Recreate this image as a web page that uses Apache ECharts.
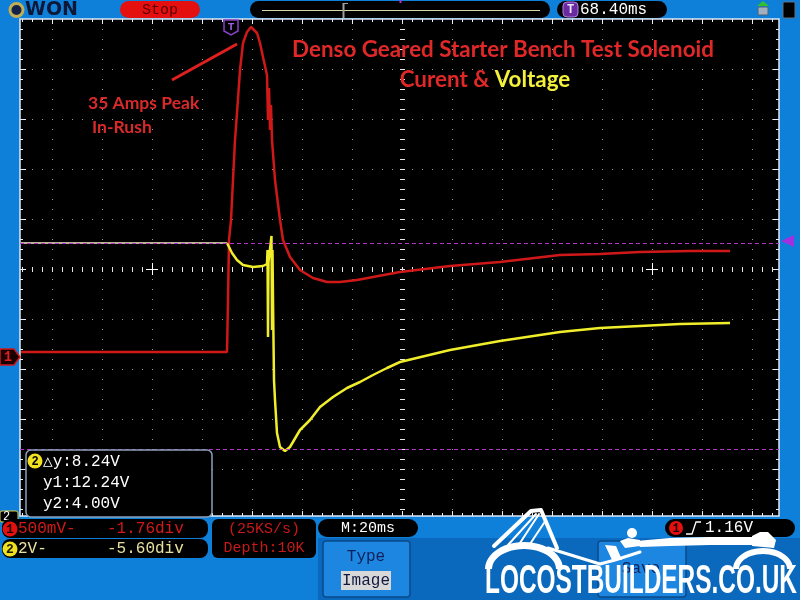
<!DOCTYPE html>
<html><head><meta charset="utf-8">
<script src="https://cdn.jsdelivr.net/npm/echarts@6/dist/echarts.min.js"></script>
<style>html,body{margin:0;padding:0;background:#0f80d9}#c{width:800px;height:600px}</style>
</head><body><div id="c"></div><script>
// ---- DATA ----
// CH1 (red, current clamp) : time in ms from trigger, volts
const ch1Time  = [-84, -1.6, -1.2, -0.8, 0, 1.6, 2.4, 3.6, 4.8, 6.4, 8.0, 8.8, 10.4, 11.6, 12.8, 14.4, 14.8, 15.2, 15.6, 16.0, 16.4, 17.6, 19.6, 20.8, 23.6, 27.6, 32.8, 38.4, 43.6, 50.4, 56.8, 67.6, 87.6, 107.6, 131.6, 147.6, 163.6, 183.6, 199.6];
const ch1Volts = [0.05, 0.05, 0.57, 1.17, 1.37, 2.17, 2.44, 2.87, 3.14, 3.25, 3.30, 3.29, 3.24, 3.14, 3.00, 2.82, 2.37, 2.69, 2.27, 2.52, 2.17, 1.77, 1.37, 1.17, 1.00, 0.87, 0.79, 0.75, 0.75, 0.77, 0.80, 0.85, 0.91, 0.95, 1.02, 1.03, 1.05, 1.06, 1.06];
// CH2 (yellow, battery voltage) : time in ms, volts
const ch2Time  = [-84, -1.6, 0.4, 2.4, 4.8, 8.8, 12.8, 14.4, 14.6, 14.8, 15.0, 15.6, 16.2, 16.4, 16.6, 16.8, 17.2, 17.6, 18.4, 19.6, 21.6, 23.6, 27.6, 31.6, 35.6, 40.8, 46.4, 51.6, 56.8, 62.4, 67.6, 87.6, 107.6, 131.6, 147.6, 163.6, 179.6, 199.6];
const ch2Volts = [12.24, 12.24, 11.84, 11.56, 11.36, 11.28, 11.32, 11.40, 11.96, 8.48, 11.48, 11.48, 12.52, 8.76, 11.96, 9.96, 6.76, 5.96, 4.64, 4.08, 3.92, 4.08, 4.76, 5.16, 5.68, 6.08, 6.44, 6.68, 6.96, 7.24, 7.48, 7.96, 8.32, 8.68, 8.84, 8.92, 9.00, 9.04];
// Cursor values (CH2) and trigger level (CH1)
const cursorVolts = [12.24, 4.00];
const triggerLevel = 1.16;
// Scope settings
const timePerDiv = 20;        // ms
const trigOffset = 68.40;     // ms, centre relative to trigger
const ch1VoltsPerDiv = 0.5, ch1Pos = -1.76;
const ch2VoltsPerDiv = 2.0, ch2Pos = -5.60;
// Texts
const titleLine1 = 'Denso Geared Starter Bench Test Solenoid';
const titleLine2a = 'Curent & ', titleLine2b = 'Voltage';
const noteLine1 = '35 Amps Peak', noteLine2 = 'In-Rush';
const cursorText = ['\u25B3y:8.24V', 'y1:12.24V', 'y2:4.00V'];
const ch1Text = ['500mV-', '-1.76div'];
const ch2Text = ['2V-', '-5.60div'];
const sampleText = ['(25KS/s)', 'Depth:10K'];
const timebaseText = 'M:20ms';
const trigText = '1.16V';
const delayText = '68.40ms';
const logoText = 'LOCOSTBUILDERS.CO.UK';

// ---- LAYOUT ----
const GX = 20, GY = 19, GW = 759, GH = 497;
const CX = 402, CY = 269, DIV = 50;
const pxPerMs = DIV / timePerDiv;
const trigPx = CX - trigOffset * pxPerMs;
const xMin = (GX - trigPx) / pxPerMs, xMax = (GX + GW - trigPx) / pxPerMs;
function yRange(vpd, pos) {
  const zeroPx = CY - pos * DIV;
  const vpp = vpd / DIV;
  return [(zeroPx - (GY + GH)) * vpp, (zeroPx - GY) * vpp];
}
const r1 = yRange(ch1VoltsPerDiv, ch1Pos), r2 = yRange(ch2VoltsPerDiv, ch2Pos);

const MONO = '"Liberation Mono","DejaVu Sans Mono",monospace';
const SANS = 'Lato,"Open Sans",sans-serif';

const g = [];
function L(x1, y1, x2, y2, stroke, w, dash, z) {
  g.push({type: 'line', silent: true, z: z || 1, shape: {x1, y1, x2, y2},
    style: {stroke, lineWidth: w || 1, lineDash: dash || null}});
}
function R(x, y, w, h, fill, r, stroke, lw, z) {
  g.push({type: 'rect', silent: true, z: z || 10, shape: {x, y, width: w, height: h, r: r || 0},
    style: {fill, stroke: stroke || null, lineWidth: lw || 0}});
}
function T(x, y, text, fill, font, align, z, extra) {
  const s = Object.assign({text, fill, font, textAlign: align || 'left', textVerticalAlign: 'middle'}, extra || {});
  g.push({type: 'text', silent: true, z: z || 11, x, y, style: s});
}
function C(cx, cy, r, fill, stroke, lw, z) {
  g.push({type: 'circle', silent: true, z: z || 11, shape: {cx, cy, r}, style: {fill, stroke: stroke || null, lineWidth: lw || 0}});
}
function PG(points, fill, z) {
  g.push({type: 'polygon', silent: true, z: z || 13, shape: {points}, style: {fill}});
}
function PL(points, stroke, lw, z) {
  g.push({type: 'polyline', silent: true, z: z || 13, shape: {points}, style: {stroke, lineWidth: lw, fill: null, lineCap: 'round', lineJoin: 'round'}});
}
function arcRing(cx, cy, rx, ry, rx2, ry2) {
  const pts = [];
  for (let i = 0; i <= 24; i++) { const a = Math.PI + Math.PI * i / 24; pts.push([cx + rx * Math.cos(a), cy + ry * Math.sin(a)]); }
  for (let i = 24; i >= 0; i--) { const a = Math.PI + Math.PI * i / 24; pts.push([cx + rx2 * Math.cos(a), cy + ry2 * Math.sin(a)]); }
  return pts;
}

// grid dotted lines
for (let x = 52; x < GX + GW; x += DIV) if (x !== CX) L(x + 0.5, GY, x + 0.5, GY + GH, '#9a9a9a', 1, [1, 9]);
for (let y = 69; y < GY + GH; y += DIV) if (y !== CY) L(GX + 2, y + 0.5, GX + GW, y + 0.5, '#9a9a9a', 1, [1, 9]);
// centre lines with ticks
for (let x = 22; x < GX + GW; x += 10) L(x + 0.5, CY - 2, x + 0.5, CY + 3, '#e8e8e8', 1);
for (let y = 29; y < GY + GH; y += 10) L(CX - 2, y + 0.5, CX + 3, y + 0.5, '#e8e8e8', 1);
// border ticks
for (let x = 22; x < GX + GW; x += 10) {
  const big = (x - 2) % 50 === 0 ? 5 : 3;
  L(x + 0.5, GY, x + 0.5, GY + big, '#e8f0ff', 1, null, 5);
  L(x + 0.5, GY + GH - big, x + 0.5, GY + GH, '#e8f0ff', 1, null, 5);
}
for (let y = 29; y < GY + GH; y += 10) {
  const big = (y - 19) % 50 === 0 ? 6 : 3;
  L(GX, y + 0.5, GX + big, y + 0.5, '#e8f0ff', 1, null, 5);
  L(GX + GW - big, y + 0.5, GX + GW, y + 0.5, '#e8f0ff', 1, null, 5);
}
// crosses
[152, 652].forEach(x => { L(x - 6, CY + 0.5, x + 6, CY + 0.5, '#ffffff', 1); L(x + 0.5, CY - 6, x + 0.5, CY + 6, '#ffffff', 1); });

// ---- TOP BAR ----
C(16.5, 10, 6.5, '#14224a', '#bfae55', 3, 11);
T(25, 10.5, 'WON', '#0d1838', 'bold 19px "DejaVu Sans"', 'left', 11);
R(120, 1, 80, 17, '#e41010', 8.5);
T(160, 10, 'Stop', '#5a0000', '15px ' + MONO, 'center');
R(250, 1, 300, 17, '#000', 8.5);
L(262, 10.5, 540, 10.5, '#d8d8a8', 1, null, 11);
L(343.5, 3, 343.5, 18, '#a0a0a0', 2, null, 11);
L(343, 3.5, 348, 3.5, '#a0a0a0', 1, null, 11);
L(400.5, 0, 400.5, 3, '#b030d0', 2, null, 11);
R(557, 1, 110, 17, '#000', 8.5);
R(563, 2, 15, 15, '#6a2aa0', 4, '#b080e0', 1, 11);
T(570.5, 10, 'T', '#e8e0ff', 'bold 12px ' + MONO, 'center', 12);
T(580, 10, delayText, '#ffffff', '16px ' + MONO, 'left');
R(758, 7, 10, 8, '#a0b0c0', 1, '#506070', 1, 11);
g.push({type: 'polygon', silent: true, z: 12, shape: {points: [[757, 6], [763, 1], [769, 6]]}, style: {fill: '#30c030'}});
R(783, 2, 12, 16, '#000', 1, '#607080', 1, 11);

// ---- ANNOTATIONS ----
T(503, 50, titleLine1, '#e02828', 'bold 22.4px ' + SANS, 'center', 12);
g.push({type: 'text', silent: true, z: 12, x: 485, y: 80,
  style: {text: '{r|' + titleLine2a + '}{y|' + titleLine2b + '}', textAlign: 'center', textVerticalAlign: 'middle',
    rich: {r: {fill: '#e02828', font: 'bold 22.4px ' + SANS}, y: {fill: '#f4f23a', font: 'bold 22.4px ' + SANS}}}});
T(88, 103, noteLine1, '#d82a2a', 'bold 17.5px ' + SANS, 'left', 12);
T(92, 127, noteLine2, '#d82a2a', 'bold 17.5px ' + SANS, 'left', 12);
L(172, 80, 237, 44, '#e02020', 3, null, 12);

// ---- CURSOR INFO BOX ----
R(26, 450, 186, 67, '#000', 5, '#8ca0b8', 1.5, 10);
C(35, 461, 7.5, '#f0e020', null, 0, 11);
T(35, 461.5, '2', '#000', 'bold 12px ' + MONO, 'center', 12);
T(43, 462, cursorText[0], '#ffffff', '16px ' + MONO, 'left');
T(43, 483, cursorText[1], '#ffffff', '16px ' + MONO, 'left');
T(43, 504, cursorText[2], '#ffffff', '16px ' + MONO, 'left');

// ---- BOTTOM BAR ----
R(0, 517, 800, 83, '#0f80d9', 0, null, 0, 8);
R(318, 538, 482, 62, '#0b69bd', 0, null, 0, 8);
R(0, 511, 18, 11, '#000', 2, '#e0d040', 1, 9);
T(3, 517, '2', '#ffffff', '12px ' + MONO, 'left', 9);
R(2, 519, 206, 19, '#000', 8, null, 0, 10);
R(2, 539, 206, 19, '#000', 8, null, 0, 10);
C(10, 529, 7.5, '#e41010', null, 0, 11);
T(10, 529.5, '1', '#200000', 'bold 13px ' + MONO, 'center', 12);
T(18, 529, ch1Text[0], '#d41818', '16px ' + MONO, 'left');
T(107, 529, ch1Text[1], '#d41818', '16px ' + MONO, 'left');
C(10, 549, 7.5, '#f0e020', null, 0, 11);
T(10, 549.5, '2', '#202000', 'bold 13px ' + MONO, 'center', 12);
T(18, 549, ch2Text[0], '#e8e0a0', '16px ' + MONO, 'left');
T(107, 549, ch2Text[1], '#e8e0a0', '16px ' + MONO, 'left');
R(212, 519, 104, 39, '#000', 6, null, 0, 10);
T(264, 529, sampleText[0], '#c81818', '15px ' + MONO, 'center');
T(264, 548, sampleText[1], '#c81818', '15px ' + MONO, 'center');
R(318, 519, 100, 18, '#000', 9, null, 0, 10);
T(368, 528, timebaseText, '#ffffff', '15px ' + MONO, 'center');
R(665, 519, 130, 18, '#000', 9, null, 0, 10);
C(676, 528, 7, '#e41010', null, 0, 11);
T(676, 528.5, '1', '#200000', 'bold 12px ' + MONO, 'center', 12);
g.push({type: 'polyline', silent: true, z: 12, shape: {points: [[686, 534], [692, 534], [696, 522], [701, 522]]}, style: {stroke: '#ffffff', lineWidth: 1.3, fill: null}});
T(705, 528, trigText, '#ffffff', '16px ' + MONO, 'left');
R(323, 541, 87, 56, '#1c86e0', 3, '#0a4a8a', 1.5, 10);
T(366, 557, 'Type', '#10205a', '16px ' + MONO, 'center');
R(341, 571, 50, 19, '#d8d8d8', 0, null, 0, 11);
T(366, 581, 'Image', '#101840', '16px ' + MONO, 'center', 12);
R(598, 541, 88, 56, '#1c86e0', 3, '#0a4a8a', 1.5, 10);
T(641, 569, 'Save', '#10205a', '16px ' + MONO, 'center');

// ---- LOGO ----
const W = '#ffffff';
PG(arcRing(524, 569, 39, 27, 32, 20), W);
PL([[494, 546], [531, 511], [541, 510], [557, 548]], W, 4);
PL([[508, 545], [536, 514]], W, 2);
PL([[518, 546], [539, 514]], W, 2);
PL([[528, 547], [546, 520]], W, 2);
PL([[548, 548], [600, 564], [615, 560], [640, 552]], W, 3);
PG([[605, 545], [612, 560], [622, 560], [616, 546]], W);
PG([[620, 541], [628, 538], [640, 540], [640, 546], [625, 548]], W);
C(632, 533, 5, W, null, 0, 13);
PG([[636, 541], [670, 538], [710, 537], [752, 537], [752, 545], [710, 545], [670, 546], [640, 547]], W);
PG([[752, 536], [760, 532], [768, 532], [776, 540], [774, 548], [752, 546]], W);
PG(arcRing(763, 569, 30, 21, 24, 15), W);
const LOGO_FONT = 'bold 40px "Liberation Sans Narrow","Liberation Sans",sans-serif';
const cv = document.createElement('canvas').getContext('2d');
cv.font = LOGO_FONT;
const logoW = cv.measureText(logoText).width;
g.push({type: 'text', silent: true, z: 14, x: 485, y: 582, scaleX: 312 / logoW, originX: 0, originY: 0,
  style: {text: logoText, fill: W, font: LOGO_FONT, textVerticalAlign: 'middle'}});

// split CH2 into the pale pre-trigger trace and the live trace
const ch2Pts = ch2Time.map((t, i) => [t, ch2Volts[i]]);
const ch2Pre = ch2Pts.filter(p => p[0] < 0);
const ch2Post = ch2Pts.filter(p => p[0] >= -1.6);

const chart = echarts.init(document.getElementById('c'));
chart.setOption({
  backgroundColor: '#0f80d9',
  animation: false,
  grid: {left: GX, top: GY, width: GW, height: GH, show: true, backgroundColor: '#000', borderColor: '#dce8f8', borderWidth: 1.5},
  xAxis: {type: 'value', min: xMin, max: xMax, show: false},
  yAxis: [
    {type: 'value', min: r1[0], max: r1[1], show: false},
    {type: 'value', min: r2[0], max: r2[1], show: false}
  ],
  series: [
    {type: 'line', name: 'CH1', yAxisIndex: 0, z: 3, symbol: 'none',
      data: ch1Time.map((t, i) => [t, ch1Volts[i]]),
      lineStyle: {color: '#d01818', width: 2.5}},
    {type: 'line', name: 'CH2', yAxisIndex: 1, z: 4, symbol: 'none',
      data: ch2Post,
      lineStyle: {color: '#f0ee2a', width: 2.5},
      markLine: {silent: true, symbol: 'none', label: {show: false}, animation: false,
        lineStyle: {color: '#b434c8', type: [4, 3], width: 1},
        data: cursorVolts.map(v => ({yAxis: v}))}},
    {type: 'line', name: 'CH2 pre', yAxisIndex: 1, z: 4, symbol: 'none',
      data: ch2Pre,
      lineStyle: {color: '#f6f2c0', width: 1.5}}
  ],
  graphic: g
});

// markers positioned from the axes
const trigX = chart.convertToPixel({xAxisIndex: 0}, 0);
const lvlY = chart.convertToPixel({yAxisIndex: 0}, triggerLevel);
const zeroY = chart.convertToPixel({yAxisIndex: 0}, 0);
const g2 = [
  {type: 'polygon', silent: true, z: 12, shape: {points: [[trigX - 7, 20], [trigX + 7, 20], [trigX + 7, 31], [trigX, 35], [trigX - 7, 31]]}, style: {fill: '#000', stroke: '#8a40c8', lineWidth: 1.5}},
  {type: 'text', silent: true, z: 13, x: trigX, y: 27, style: {text: 'T', fill: '#a060e0', font: 'bold 11px ' + MONO, textAlign: 'center', textVerticalAlign: 'middle'}},
  {type: 'polygon', silent: true, z: 12, shape: {points: [[781, lvlY], [794, lvlY - 6], [794, lvlY + 6]]}, style: {fill: '#a030e0'}},
  {type: 'polygon', silent: true, z: 12, shape: {points: [[0, zeroY - 8], [14, zeroY - 8], [20, zeroY], [14, zeroY + 8], [0, zeroY + 8]]}, style: {fill: '#1a0000', stroke: '#d01818', lineWidth: 1.5}},
  {type: 'text', silent: true, z: 13, x: 8, y: zeroY, style: {text: '1', fill: '#e02020', font: 'bold 14px ' + MONO, textAlign: 'center', textVerticalAlign: 'middle'}}
];
chart.setOption({graphic: g.concat(g2)});
</script></body></html>
